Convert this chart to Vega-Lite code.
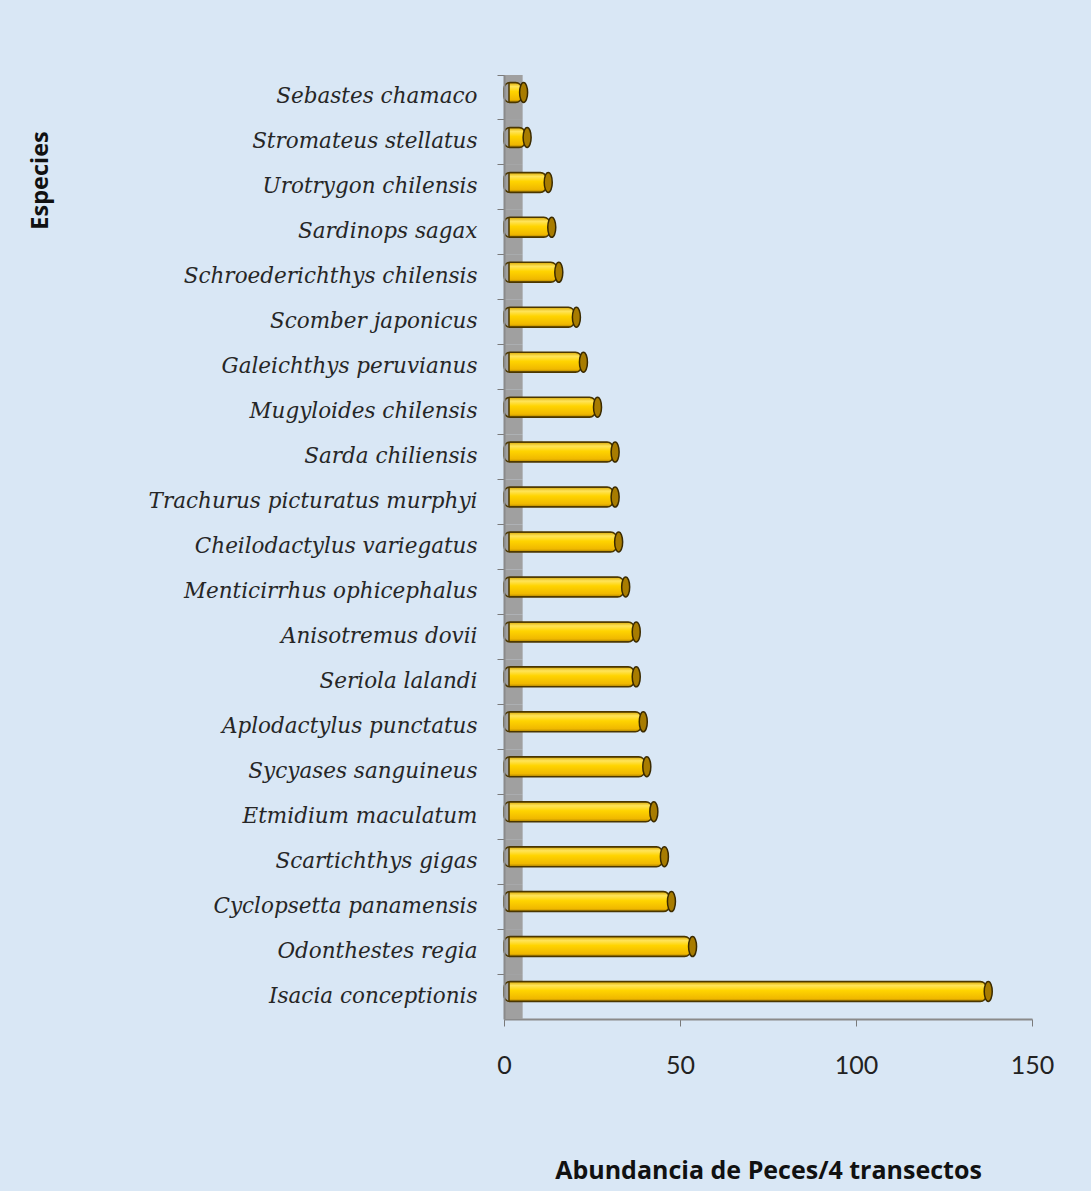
{
  "$schema": "https://vega.github.io/schema/vega-lite/v6.json",
  "width": 528,
  "height": 944,
  "autosize": {"type": "none"},
  "padding": {"left": 504, "top": 75, "right": 59, "bottom": 172},
  "background": "#d9e7f5",
  "config": {"view": {"stroke": null}},
  "data": {
    "values": [
      {"especie": "Sebastes chamaco", "abundancia": 5},
      {"especie": "Stromateus stellatus", "abundancia": 6},
      {"especie": "Urotrygon chilensis", "abundancia": 12},
      {"especie": "Sardinops sagax", "abundancia": 13},
      {"especie": "Schroederichthys chilensis", "abundancia": 15},
      {"especie": "Scomber japonicus", "abundancia": 20},
      {"especie": "Galeichthys peruvianus", "abundancia": 22},
      {"especie": "Mugyloides chilensis", "abundancia": 26},
      {"especie": "Sarda chiliensis", "abundancia": 31},
      {"especie": "Trachurus picturatus murphyi", "abundancia": 31},
      {"especie": "Cheilodactylus variegatus", "abundancia": 32},
      {"especie": "Menticirrhus ophicephalus", "abundancia": 34},
      {"especie": "Anisotremus dovii", "abundancia": 37},
      {"especie": "Seriola  lalandi", "abundancia": 37},
      {"especie": "Aplodactylus punctatus", "abundancia": 39},
      {"especie": "Sycyases sanguineus", "abundancia": 40},
      {"especie": "Etmidium maculatum", "abundancia": 42},
      {"especie": "Scartichthys gigas", "abundancia": 45},
      {"especie": "Cyclopsetta panamensis", "abundancia": 47},
      {"especie": "Odonthestes  regia", "abundancia": 53},
      {"especie": "Isacia conceptionis", "abundancia": 137}
    ]
  },
  "encoding": {
    "y": {
      "field": "especie",
      "type": "nominal",
      "sort": null,
      "scale": {"paddingInner": 0, "paddingOuter": 0},
      "axis": {
        "title": "Especies",
        "titleFont": "Open Sans",
        "titleFontWeight": "bold",
        "titleFontSize": 23.5,
        "titleColor": "#111111",
        "titleAngle": 270,
        "titleAlign": "center",
        "titleBaseline": "middle",
        "titleX": -464,
        "titleY": 105,
        "labelFont": "DejaVu Serif",
        "labelFontStyle": "italic",
        "labelFontSize": 21.5,
        "labelColor": "#262626",
        "labelPadding": 20,
        "labelLimit": 400,
        "bandPosition": 0,
        "tickColor": "#7a7a7a",
        "tickSize": 7,
        "domainColor": "#8a8a8a",
        "domainWidth": 2
      }
    },
    "x": {
      "field": "abundancia",
      "type": "quantitative",
      "scale": {"domain": [0, 150], "nice": false},
      "axis": {
        "title": "Abundancia de Peces/4 transectos",
        "titleFont": "Open Sans",
        "titleFontWeight": "bold",
        "titleFontSize": 25,
        "titleColor": "#111111",
        "titleBaseline": "middle",
        "titleY": 151,
        "values": [0, 50, 100, 150],
        "labelFlush": false,
        "labelFont": "Lato",
        "labelFontSize": 25,
        "labelColor": "#222222",
        "labelPadding": 27,
        "tickColor": "#7a7a7a",
        "tickSize": 7,
        "domainColor": "#8a8a8a",
        "domainWidth": 2,
        "grid": false
      }
    }
  },
  "layer": [
    {
      "mark": {"type": "rect", "color": "#a0a0a0", "opacity": 1},
      "encoding": {
        "x": {"datum": 0, "type": "quantitative"},
        "x2": {"datum": 5.3}
      }
    },
    {
      "mark": {
        "type": "bar",
        "height": 20,
        "xOffset": 5,
        "yOffset": -5,
        "cornerRadius": 6,
        "stroke": "#4a3600",
        "strokeWidth": 1.5,
        "color": {
          "gradient": "linear",
          "x1": 0, "y1": 0, "x2": 0, "y2": 1,
          "stops": [
            {"offset": 0, "color": "#d9a800"},
            {"offset": 0.2, "color": "#ffe45a"},
            {"offset": 0.45, "color": "#ffd400"},
            {"offset": 0.85, "color": "#f0b800"},
            {"offset": 1, "color": "#a87e00"}
          ]
        }
      }
    },
    {
      "mark": {
        "type": "point",
        "shape": "M0,-1A0.4,1,0,1,1,0,1A0.4,1,0,1,1,0,-1Z",
        "size": 400,
        "xOffset": 2,
        "yOffset": -5,
        "filled": true,
        "fill": "#a87c00",
        "stroke": "#3a2a00",
        "strokeWidth": 1.5,
        "opacity": 1
      }
    }
  ]
}
